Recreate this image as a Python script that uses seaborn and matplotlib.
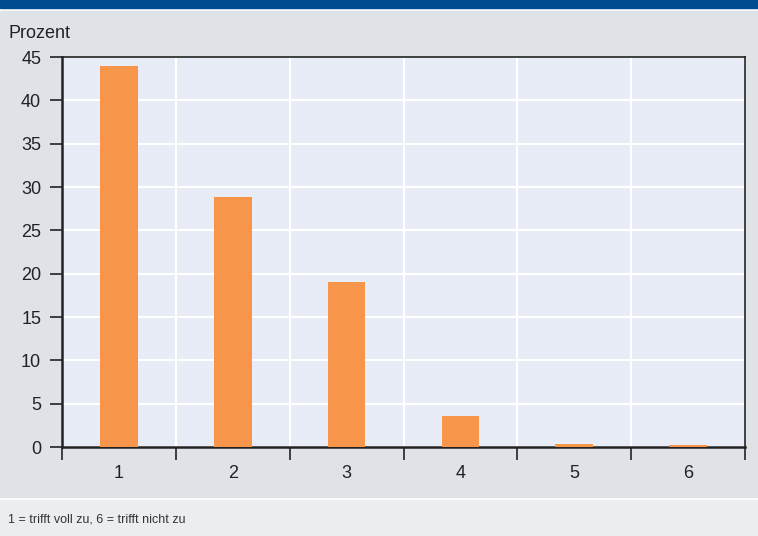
import matplotlib
matplotlib.use("Agg")
import matplotlib.pyplot as plt
from matplotlib.patches import Rectangle
import seaborn as sns
import pandas as pd
import numpy as np

# data
categories = ["1", "2", "3", "4", "5", "6"]
values = [44.0, 28.8, 19.0, 3.6, 0.4, 0.2]

df = pd.DataFrame({"Bewertung": categories, "Prozent": values})

sns.set_theme(style="white")
plt.rcParams['font.family'] = ['Liberation Sans', 'DejaVu Sans']

W, H = 758, 536
fig = plt.figure(figsize=(W / 100, H / 100), dpi=100)
fig.patch.set_facecolor("white")

def px_rect(y0, y1, color):
    # rectangle across the full width, y in pixels from the top
    fig.add_artist(Rectangle((0, 1 - y1 / H), 1, (y1 - y0) / H,
                             transform=fig.transFigure, color=color, zorder=0))

px_rect(0, 8, "#004a8f")
px_rect(11, 497, "#dfe3e7")
px_rect(500, 536, "#ebeef1")

ax = fig.add_axes([62 / W, 1 - 447 / H, (745 - 62) / W, (447 - 57) / H])
ax.set_facecolor("#e8ecf7")

sns.barplot(data=df, x="Bewertung", y="Prozent", color="#f7964a",
            saturation=1, width=0.33, linewidth=0, ax=ax, zorder=3)

ax.set_xlim(-0.5, 5.5)
ax.set_ylim(0, 45)
ax.set_yticks(np.arange(0, 46, 5))
ax.set_yticklabels([str(v) for v in range(0, 46, 5)], fontsize=13, color="#222222")

# tick marks on category boundaries, labels at centres
ax.set_xticks(np.arange(-0.5, 6, 1))
ax.set_xticklabels([""] * 7)
ax.set_xticks(np.arange(0, 6), minor=True)
ax.set_xticklabels(categories, minor=True, fontsize=13, color="#222222")
ax.tick_params(axis="x", which="major", direction="out", length=9, width=1.2,
               color="#222222", bottom=True)
ax.tick_params(axis="x", which="minor", length=0, pad=13)
ax.tick_params(axis="y", direction="out", length=9, width=1.2, color="#222222",
               left=True, pad=6)

ax.grid(True, which="major", color="white", linewidth=1.5, zorder=1)
ax.set_axisbelow(True)
for side, sp in ax.spines.items():
    sp.set_color("#222222")
    sp.set_linewidth(1.2)
ax.spines["left"].set_linewidth(1.8)
ax.spines["bottom"].set_linewidth(1.8)

ax.set_xlabel("")
ax.set_ylabel("")

fig.text(8 / W, 1 - 33 / H, "Prozent", fontsize=13, color="#222222", va="center")
fig.text(8 / W, 1 - 520 / H, "1 = trifft voll zu, 6 = trifft nicht zu",
         fontsize=9, color="#333333", va="center")

plt.savefig("out.png", dpi=100)
plt.close(fig)
